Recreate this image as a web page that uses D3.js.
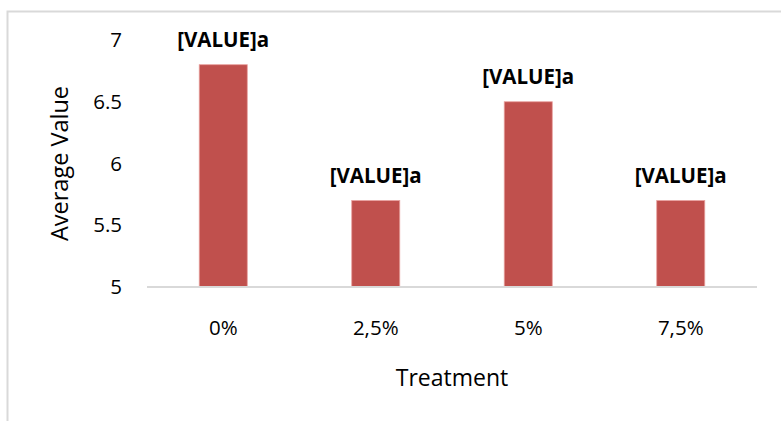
<!DOCTYPE html>
<html>
<head>
<meta charset="utf-8">
<script src="https://cdn.jsdelivr.net/npm/d3@7"></script>
<style>
  body { margin: 0; background: #fff; }
  svg text { font-family: 'Open Sans', sans-serif; fill: #000; }
</style>
</head>
<body>
<svg id="canvas" width="781" height="421"></svg>
<script>
let treatments = ['0%', '2,5%', '5%', '7,5%'];
let averageValues = [6.8, 5.7, 6.5, 5.7];
let valueLabels = ['[VALUE]a', '[VALUE]a', '[VALUE]a', '[VALUE]a'];
let yTicks = [5, 5.5, 6, 6.5, 7];

let canvas = d3.select('#canvas');

// chart frame (only top and left edges are in view)
canvas.append('path')
	.attr('d', 'M7.5,421 V11.5 H781')
	.attr('fill', 'none')
	.attr('stroke', '#d9d9d9')
	.attr('stroke-width', 2);

let plotLeft = 147, plotRight = 757, plotTop = 40, plotBottom = 287;

let xScale = d3.scaleBand()
	.domain(treatments)
	.range([plotLeft, plotRight]);

let yScale = d3.scaleLinear()
	.domain([5, 7])
	.range([plotBottom, plotTop]);

let barWidth = xScale.bandwidth() * 0.315;

canvas.selectAll('.bar')
	.data(averageValues)
	.enter()
	.append('rect')
	.attr('class', 'bar')
	.attr('x', (d, i) => xScale(treatments[i]) + (xScale.bandwidth() - barWidth) / 2)
	.attr('y', (d) => yScale(d))
	.attr('width', barWidth)
	.attr('height', (d) => yScale(5) - yScale(d))
	.attr('fill', '#c0504d')
	.attr('stroke', '#e8a09e')
	.attr('stroke-width', 0.8);

// x axis line
canvas.append('line')
	.attr('x1', plotLeft)
	.attr('x2', plotRight)
	.attr('y1', plotBottom)
	.attr('y2', plotBottom)
	.attr('stroke', '#d9d9d9')
	.attr('stroke-width', 2);

// y tick labels
canvas.selectAll('.ytick')
	.data(yTicks)
	.enter()
	.append('text')
	.attr('class', 'ytick')
	.attr('x', 122)
	.attr('y', (d) => yScale(d))
	.attr('dy', '0.35em')
	.attr('text-anchor', 'end')
	.style('font-size', '20.5px')
	.text((d) => d);

// x tick labels
canvas.selectAll('.xtick')
	.data(treatments)
	.enter()
	.append('text')
	.attr('class', 'xtick')
	.attr('x', (d) => xScale(d) + xScale.bandwidth() / 2)
	.attr('y', 335)
	.attr('text-anchor', 'middle')
	.style('font-size', '20.5px')
	.text((d) => d);

// value labels
canvas.selectAll('.vlabel')
	.data(averageValues)
	.enter()
	.append('text')
	.attr('class', 'vlabel')
	.attr('x', (d, i) => xScale(treatments[i]) + xScale.bandwidth() / 2)
	.attr('y', (d) => yScale(d) - 18)
	.attr('text-anchor', 'middle')
	.style('font-size', '20.5px')
	.style('font-weight', 'bold')
	.text((d, i) => valueLabels[i]);

// axis titles
canvas.append('text')
	.attr('x', (plotLeft + plotRight) / 2)
	.attr('y', 386)
	.attr('text-anchor', 'middle')
	.style('font-size', '23px')
	.text('Treatment');

canvas.append('text')
	.attr('transform', `translate(68, ${(plotTop + plotBottom) / 2}) rotate(-90)`)
	.attr('text-anchor', 'middle')
	.style('font-size', '23.5px')
	.text('Average Value');
</script>
</body>
</html>
